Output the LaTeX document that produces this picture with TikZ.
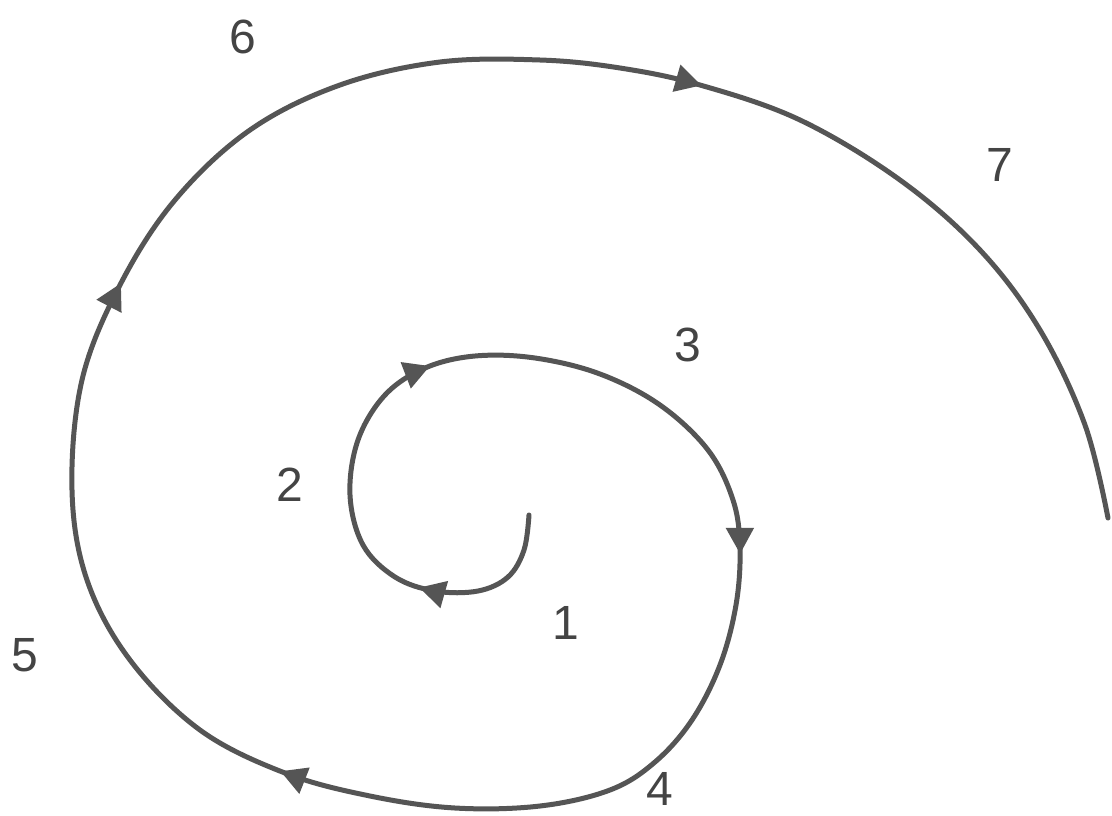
\documentclass[tikz,border=0pt]{standalone}
\usepackage{fontspec}
\setmainfont{Liberation Sans}
\usetikzlibrary{arrows.meta,decorations.markings}
\definecolor{ink}{HTML}{555555}
\definecolor{txt}{HTML}{444444}
\tikzset{
  spiral/.style={draw=ink, line width=5pt, line cap=round, line join=round},
  lbl/.style={text=txt, font=\fontsize{48}{48}\selectfont, inner sep=0pt},
}
\begin{document}
\begin{tikzpicture}[x=1pt,y=-1pt]
\useasboundingbox (0,0) rectangle (1112,815);
\fill[white] (0,0) rectangle (1112,815);
\draw[spiral, postaction={decorate},
  decoration={markings,
    mark=at position 160pt with {\arrow[ink]{Triangle[length=26pt,width=27pt]}},
    mark=at position 447pt with {\arrow[ink]{Triangle[length=26pt,width=27pt]}},
    mark=at position 865pt with {\arrow[ink]{Triangle[length=26pt,width=27pt]}},
    mark=at position 1486pt with {\arrow[ink]{Triangle[length=26pt,width=27pt]}},
    mark=at position 2074pt with {\arrow[ink]{Triangle[length=26pt,width=27pt]}},
    mark=at position 2744pt with {\arrow[ink]{Triangle[length=26pt,width=27pt]}}}]
  plot[smooth, tension=0.6] coordinates {
  (529,515) (524,550) (508,577) (478,591) (435,591) (395,577) (363,545)
  (350,495) (358,440) (385,395) (425,368) (475,356) (535,358) (600,374)
  (660,405) (708,450) (733,500) (740,548) (736,605) (720,665) (692,720)
  (655,762) (610,790) (540,806) (455,808) (370,796) (285,773) (200,730) (130,660)
  (87,580) (72,490) (82,380) (120,285) (175,200) (250,130) (340,85)
  (440,62) (540,60) (620,68) (700,85) (800,120) (900,180) (980,250)
  (1040,330) (1085,425) (1108,518)};
\node[lbl] (n1) at (566,623) {1};
\node[lbl] (n2) at (290,485) {2};
\node[lbl] (n3) at (688,345) {3};
\node[lbl] (n4) at (660,789) {4};
\node[lbl] (n5) at (25,655) {5};
\node[lbl] (n6) at (243,37) {6};
\node[lbl] (n7) at (1000,165) {7};
\end{tikzpicture}
\end{document}
